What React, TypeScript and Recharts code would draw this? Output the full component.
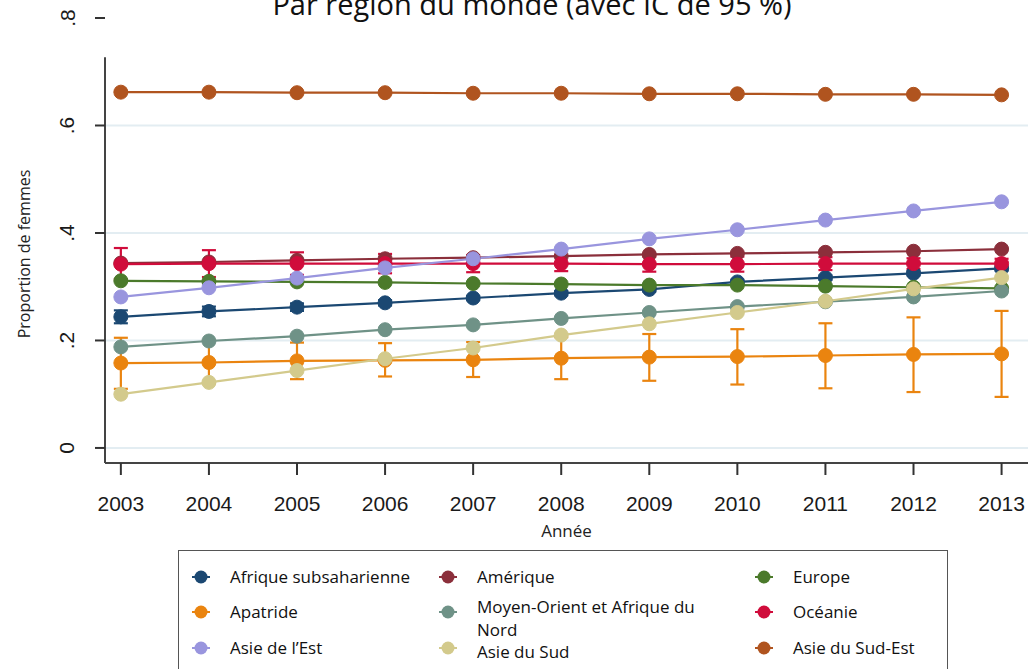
import React from 'react';
import {
  LineChart,
  Line,
  XAxis,
  YAxis,
  ReferenceLine,
  ErrorBar
} from 'recharts';

const years = [2003, 2004, 2005, 2006, 2007, 2008, 2009, 2010, 2011, 2012, 2013];
const yTicks = [0, 0.2, 0.4, 0.6, 0.8];
const yTickLabels = ['0', '.2', '.4', '.6', '.8'];
const gridValues = [0, 0.2, 0.4, 0.6];

const afrique = [0.244, 0.254, 0.262, 0.270, 0.279, 0.288, 0.295, 0.309, 0.317, 0.325, 0.334];
const afriqueLow = [0.232, 0.245, 0.255, 0.265, 0.275, 0.284, 0.291, 0.305, 0.313, 0.321, 0.330];
const afriqueHigh = [0.256, 0.263, 0.269, 0.275, 0.283, 0.292, 0.299, 0.313, 0.321, 0.329, 0.338];
const amerique = [0.344, 0.346, 0.349, 0.352, 0.354, 0.357, 0.360, 0.362, 0.364, 0.366, 0.370];
const europe = [0.311, 0.310, 0.309, 0.308, 0.306, 0.305, 0.303, 0.303, 0.301, 0.299, 0.297];
const apatride = [0.158, 0.159, 0.162, 0.163, 0.164, 0.167, 0.169, 0.170, 0.172, 0.174, 0.175];
const apatrideLow = [0.110, 0.120, 0.128, 0.133, 0.132, 0.128, 0.125, 0.118, 0.111, 0.104, 0.095];
const apatrideHigh = [0.205, 0.200, 0.196, 0.195, 0.197, 0.206, 0.212, 0.221, 0.232, 0.243, 0.255];
const moyenOrient = [0.188, 0.199, 0.208, 0.220, 0.229, 0.241, 0.252, 0.263, 0.272, 0.281, 0.292];
const oceanie = [0.342, 0.343, 0.343, 0.343, 0.343, 0.343, 0.342, 0.342, 0.343, 0.343, 0.343];
const oceanieLow = [0.314, 0.318, 0.322, 0.325, 0.327, 0.329, 0.328, 0.328, 0.331, 0.333, 0.334];
const oceanieHigh = [0.372, 0.368, 0.364, 0.361, 0.359, 0.357, 0.356, 0.356, 0.355, 0.353, 0.352];
const asieEst = [0.281, 0.298, 0.316, 0.335, 0.352, 0.370, 0.389, 0.406, 0.424, 0.441, 0.458];
const asieSud = [0.100, 0.122, 0.144, 0.166, 0.186, 0.210, 0.231, 0.252, 0.273, 0.296, 0.317];
const asieSudEst = [0.662, 0.662, 0.661, 0.661, 0.660, 0.660, 0.659, 0.659, 0.658, 0.658, 0.657];

// plotting order = legend order (row by row)
const series = [
  { key: 'afrique', name: 'Afrique subsaharienne', color: '#1b4872', values: afrique, low: afriqueLow, high: afriqueHigh },
  { key: 'amerique', name: 'Amérique', color: '#8b2f3b', values: amerique },
  { key: 'europe', name: 'Europe', color: '#4b7a2b', values: europe },
  { key: 'apatride', name: 'Apatride', color: '#ea840f', values: apatride, low: apatrideLow, high: apatrideHigh },
  { key: 'moyenOrient', name: 'Moyen-Orient et Afrique du Nord', color: '#6f9287', values: moyenOrient },
  { key: 'oceanie', name: 'Océanie', color: '#d00c3b', values: oceanie, low: oceanieLow, high: oceanieHigh },
  { key: 'asieEst', name: 'Asie de l\u2019Est', color: '#9995de', values: asieEst },
  { key: 'asieSud', name: 'Asie du Sud', color: '#d3ca8c', values: asieSud },
  { key: 'asieSudEst', name: 'Asie du Sud-Est', color: '#b0541f', values: asieSudEst }
];

const data = years.map((year, i) => {
  const row: Record<string, any> = { year };
  series.forEach((s) => {
    row[s.key] = s.values[i];
    if (s.low && s.high) {
      row[s.key + 'Err'] = [s.values[i] - s.low[i], s.high[i] - s.values[i]];
    }
  });
  return row;
});

const X_MIN = 2002.82;
const X_MAX = 2013.3;
const Y_MIN = -0.028;
const Y_AXIS_TOP = 0.727;

const font = '"Open Sans", sans-serif';
const tickFont = "Arial, 'Liberation Sans', sans-serif";

const YTick = (props: any) => {
  const { x, y, payload } = props;
  const idx = yTicks.indexOf(payload.value);
  const cx = x - 26;
  return (
    <text
      x={cx}
      y={y}
      transform={`rotate(-90, ${cx}, ${y})`}
      textAnchor="middle"
      dominantBaseline="central"
      fontFamily={tickFont}
      fontSize={21}
      fill="#1a1a1a"
    >
      {yTickLabels[idx]}
    </text>
  );
};

const XTick = (props: any) => {
  const { x, y, payload } = props;
  return (
    <text
      x={x}
      y={y + 26}
      textAnchor="middle"
      dominantBaseline="central"
      fontFamily={tickFont}
      fontSize={21}
      fill="#1a1a1a"
    >
      {payload.value}
    </text>
  );
};

const LegendMarker = ({ color }: { color: string }) => (
  <svg width={20} height={16} style={{ flex: 'none' }}>
    <line x1={1} y1={8} x2={19} y2={8} stroke={color} strokeWidth={2} />
    <circle cx={10} cy={8} r={6.5} fill={color} />
  </svg>
);

const legendCols = [12, 259, 575];
const legendRows = [14, 49, 85];
// small vertical nudges per legend item (same order as series)
const legendNudge = [0, 0, 0, 0, -5, 0, 0, 4, 0];

export default function App() {
  return (
    <div style={{ position: 'absolute', left: 0, top: 0, width: 1028, height: 669, overflow: 'hidden', background: '#fff' }}>
      <div
        style={{
          position: 'absolute',
          left: 0,
          width: 1064,
          top: -16,
          textAlign: 'center',
          fontFamily: font,
          fontSize: 29,
          lineHeight: '40px',
          color: '#111'
        }}
      >
        Par région du monde (avec IC de 95 %)
      </div>
      <svg style={{ position: 'absolute', left: 0, top: 0 }} width={40} height={669}>
        <text
          x={24}
          y={254}
          transform="rotate(-90, 24, 254)"
          textAnchor="middle"
          dominantBaseline="central"
          fontFamily={font}
          fontSize={16}
          fill="#222"
        >
          Proportion de femmes
        </text>
      </svg>
      <div style={{ position: 'absolute', left: 0, top: 0 }}>
        <LineChart width={1028} height={669} data={data} margin={{ top: 18, right: 0, left: 0, bottom: 126 }}>
          {gridValues.map((v) => (
            <ReferenceLine key={v} y={v} stroke="#e3edf2" strokeWidth={2} ifOverflow="visible" />
          ))}
          <XAxis
            dataKey="year"
            type="number"
            domain={[X_MIN, X_MAX]}
            ticks={years}
            allowDataOverflow
            height={80}
            tickSize={12}
            tickLine={{ stroke: '#333', strokeWidth: 2 }}
            axisLine={{ stroke: '#444', strokeWidth: 2 }}
            tick={<XTick />}
            label={{ value: 'Année', position: 'insideBottom', offset: 6, fontFamily: font, fontSize: 17, fill: '#222' }}
          />
          <YAxis
            type="number"
            domain={[Y_MIN, 0.8]}
            ticks={yTicks}
            allowDataOverflow
            width={105}
            tickSize={10}
            tickLine={{ stroke: '#333', strokeWidth: 2 }}
            axisLine={false}
            tick={<YTick />}
          />
          <ReferenceLine
            segment={[{ x: X_MIN, y: Y_MIN }, { x: X_MIN, y: Y_AXIS_TOP }]}
            stroke="#444"
            strokeWidth={2}
            ifOverflow="visible"
          />
          {series.map((s) => (
            <Line
              key={s.key}
              type="linear"
              dataKey={s.key}
              name={s.name}
              stroke={s.color}
              strokeWidth={2.2}
              dot={{ r: 7, fill: s.color, stroke: s.color, strokeWidth: 1 }}
              activeDot={false}
              isAnimationActive={false}
            >
              {s.low && (
                <ErrorBar dataKey={s.key + 'Err'} direction="y" width={7} stroke={s.color} strokeWidth={2.2} />
              )}
            </Line>
          ))}
        </LineChart>
      </div>
      <div
        style={{
          position: 'absolute',
          left: 178,
          top: 550,
          width: 770,
          height: 140,
          border: '1.5px solid #555',
          boxSizing: 'border-box',
          fontFamily: font,
          fontSize: 17,
          color: '#111'
        }}
      >
        {series.map((s, i) => (
          <div
            key={s.key}
            style={{
              position: 'absolute',
              left: legendCols[i % 3],
              top: legendRows[Math.floor(i / 3)] + legendNudge[i],
              display: 'flex',
              alignItems: 'flex-start',
              gap: 19
            }}
          >
            <div style={{ height: 23, display: 'flex', alignItems: 'center', marginTop: -legendNudge[i] }}>
              <LegendMarker color={s.color} />
            </div>
            <div style={{ lineHeight: '23px', maxWidth: 245 }}>{s.name}</div>
          </div>
        ))}
      </div>
    </div>
  );
}
